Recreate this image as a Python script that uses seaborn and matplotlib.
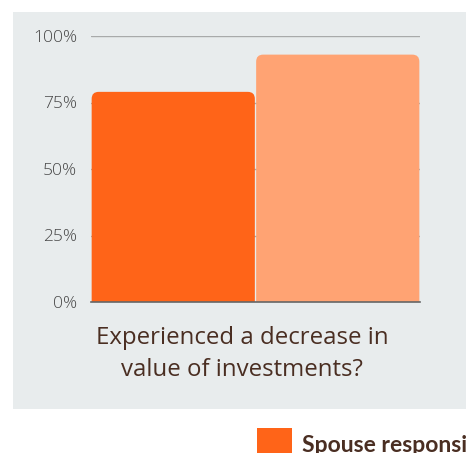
import matplotlib
matplotlib.use("Agg")
import matplotlib.pyplot as plt
from matplotlib.patches import FancyBboxPatch, Rectangle, Patch
import pandas as pd
import seaborn as sns

question = "Experienced a decrease in\nvalue of investments?"
groups = ["Spouse responsible for finances", "Spouse not responsible"]
shares = [0.79, 0.93]
bar_colors = ["#FF6418", "#FFA373"]
ytick_vals = [0, 0.25, 0.5, 0.75, 1.0]
ytick_labels = ["0%", "25%", "50%", "75%", "100%"]

df = pd.DataFrame({"question": [question] * len(groups), "group": groups, "share": shares})

sns.set_theme(style="white")
plt.rcParams["font.family"] = ["Open Sans", "DejaVu Sans"]

W, H = 466, 453
fig = plt.figure(figsize=(W / 100, H / 100), dpi=100)
fig.patch.set_facecolor("white")
# grey panel behind the chart
fig.patches.append(Rectangle((13 / W, 1 - 409 / H), (W - 13) / W, (409 - 12) / H,
                             transform=fig.transFigure, facecolor="#E8ECED", edgecolor="none", zorder=0))

ax = fig.add_axes([91 / W, 1 - 302 / H, (420 - 91) / W, (302 - 36) / H])
ax.set_facecolor("none")
ax.set_zorder(2)

sns.barplot(data=df, x="question", y="share", hue="group", hue_order=groups,
            palette=bar_colors, width=1.0, ax=ax, legend=False)

ax.set_xlim(-0.5, 0.5)
ax.set_ylim(0, 1.0)

# swap the plain bars for ones with rounded top corners
ax_w_px = 420 - 91
ax_h_px = 302 - 36
aspect = (1.0 / ax_h_px) / (1.0 / ax_w_px)
rad = 7 / ax_w_px
for bar, col in zip(list(ax.patches), bar_colors):
    x, w, h = bar.get_x(), bar.get_width(), bar.get_height()
    bar.set_visible(False)
    fb = FancyBboxPatch((x + 0.002, -0.1), w - 0.004, h + 0.1,
                        boxstyle=f"round,pad=0,rounding_size={rad}",
                        mutation_aspect=aspect, facecolor=col, edgecolor="none", zorder=3)
    ax.add_patch(fb)

ax.set_yticks(ytick_vals)
ax.set_yticklabels(ytick_labels, fontweight="light")
ax.tick_params(axis="y", length=0, pad=10, labelsize=12.5, labelcolor="#484848")
ax.set_xticks([])
ax.set_xlabel(question, fontsize=17.3, color="#4A2E22", labelpad=20, linespacing=1.42)
ax.xaxis.set_label_coords((242 - 91) / ax_w_px, -0.092)
ax.xaxis.label.set_verticalalignment("top")
ax.set_ylabel("")
ax.yaxis.grid(True, color="#A8AAAA", linewidth=1)
ax.set_axisbelow(True)
for s in ["top", "right", "left"]:
    ax.spines[s].set_visible(False)
ax.spines["bottom"].set_color("#666666")
ax.spines["bottom"].set_linewidth(1.2)
ax.spines["bottom"].set_zorder(4)

handles = [Patch(facecolor=c, edgecolor="none") for c in bar_colors]
fig.legend(handles, groups, loc="upper left", bbox_to_anchor=(236 / W, 1 - 407 / H),
           ncol=2, frameon=False, handlelength=1.53, handleheight=1.97, handletextpad=0.44,
           columnspacing=2.0, prop={"family": ["Lato", "DejaVu Sans"], "size": 16.5, "weight": "bold"},
           labelcolor="#4A2E22")

fig.savefig("out.png", dpi=100)
